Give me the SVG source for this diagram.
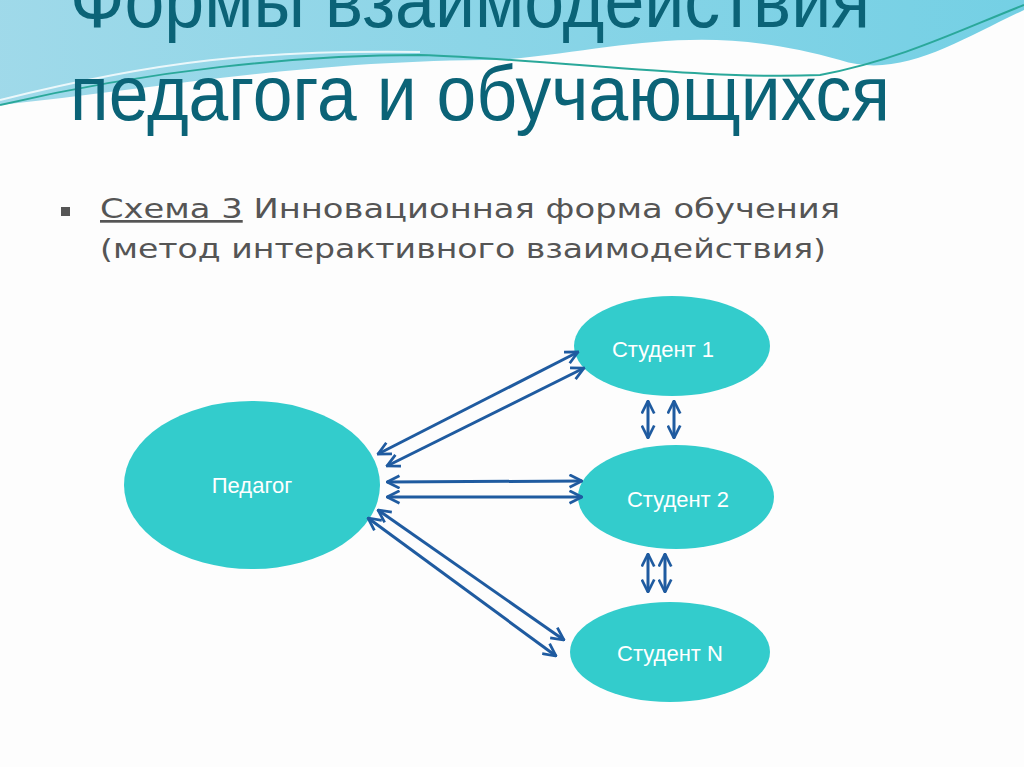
<svg xmlns="http://www.w3.org/2000/svg" width="1024" height="767" viewBox="0 0 1024 767">
<defs>
<marker id="ah" viewBox="0 0 12 12" refX="11" refY="6" markerWidth="5" markerHeight="5" orient="auto-start-reverse" markerUnits="strokeWidth"><path d="M1,1 L11,6 L1,11" fill="none" stroke="#1F5BA0" stroke-width="2.2"/></marker>
<linearGradient id="wave" x1="0" y1="0" x2="1" y2="0"><stop offset="0" stop-color="#8fd3e6"/><stop offset="1" stop-color="#5cc8e0"/></linearGradient>
</defs>
<style>
.node{fill:#33CCCC}
.lbl{font-family:"Liberation Sans",Arial,sans-serif;font-size:22px;fill:#ffffff;text-anchor:middle}
.c line{stroke:#1F5BA0;stroke-width:3;marker-start:url(#ah);marker-end:url(#ah)}
.title{font-family:"Liberation Sans",Arial,sans-serif;font-size:78px;fill:#0B6377}
.sub{font-family:"DejaVu Sans",sans-serif;font-size:27px;fill:#555555}
</style>
<rect width="1024" height="767" fill="#fdfdfd"/>
<path d="M0,0 H1024 V10 C960,40 900,80 840,60 C700,20 620,50 500,60 C300,60 150,90 0,105 Z" fill="url(#wave)" opacity="0.85"/>
<path d="M0,105 C150,70 300,55 420,55 C560,60 700,80 820,75 C900,60 960,30 1024,5" fill="none" stroke="#2aa89a" stroke-width="2"/>
<path d="M0,100 C160,60 260,50 420,52" fill="none" stroke="#ffffff" stroke-width="2" opacity="0.8"/>
<text class="title" x="70" y="27" textLength="800" lengthAdjust="spacingAndGlyphs">Формы взаимодействия</text>
<text class="title" x="70" y="120" textLength="820" lengthAdjust="spacingAndGlyphs">педагога и обучающихся</text>
<rect x="61" y="207" width="9" height="9" fill="#555555"/>
<text class="sub" x="100" y="218" textLength="740" lengthAdjust="spacingAndGlyphs"><tspan text-decoration="underline">Схема 3</tspan> Инновационная форма обучения</text>
<text class="sub" x="100" y="258" textLength="726" lengthAdjust="spacingAndGlyphs">(метод интерактивного взаимодействия)</text>
<g id="n-pedagog"><ellipse class="node" cx="252" cy="485" rx="128" ry="84"/><text class="lbl" x="252" y="493">Педагог</text></g>
<g id="n-s1"><ellipse class="node" cx="672" cy="346" rx="98" ry="50"/><text class="lbl" x="663" y="357">Студент 1</text></g>
<g id="n-s2"><ellipse class="node" cx="676" cy="497" rx="98" ry="52"/><text class="lbl" x="678" y="507">Студент 2</text></g>
<g id="n-sn"><ellipse class="node" cx="670" cy="652" rx="100" ry="50"/><text class="lbl" x="670" y="661">Студент N</text></g>
<g class="c" id="connectors">
<line x1="378" y1="454" x2="578" y2="352"/>
<line x1="387" y1="466" x2="584" y2="368"/>
<line x1="387" y1="482" x2="582" y2="481"/>
<line x1="387" y1="497" x2="582" y2="497"/>
<line x1="378" y1="510" x2="564" y2="640"/>
<line x1="368" y1="518" x2="556" y2="656"/>
<line x1="648" y1="401" x2="648" y2="438"/>
<line x1="674" y1="401" x2="674" y2="438"/>
<line x1="648" y1="554" x2="648" y2="592"/>
<line x1="665" y1="554" x2="665" y2="592"/>
</g>
</svg>
